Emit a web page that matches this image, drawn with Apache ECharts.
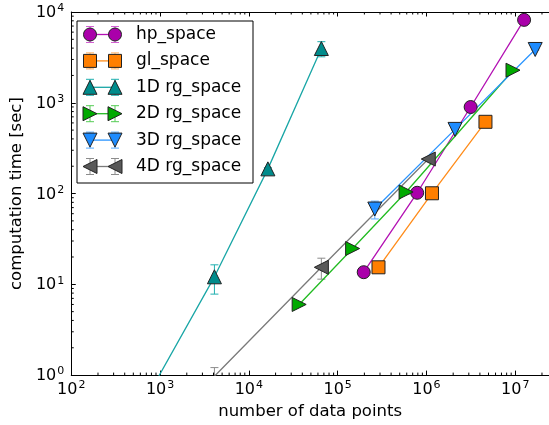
<!DOCTYPE html>
<html>
<head>
<meta charset="utf-8">
<script src="https://cdn.jsdelivr.net/npm/echarts@6/dist/echarts.min.js"></script>
<style>
  html, body { margin: 0; padding: 0; background: #fff; }
  #box { width: 549px; height: 425px; }
</style>
</head>
<body>
<div id="box"></div>
<script>
// axis limits
var xMin = 100, xMax = 2.4e7;
var yMin = 1, yMax = 1e4;

// hp_space
var hpX = [196608, 786432, 3145728, 12582912];
var hpY = [13.6, 102, 898, 8190];
var hpErr = [0.4, 2, 12, 90];
// gl_space
var glX = [288420, 1154440, 4619280];
var glY = [15.4, 100.7, 617];
var glErr = [0.3, 2, 8];
// 1D rg_space
var rg1X = [512, 4096, 16384, 65536];
var rg1Y = [0.32, 12.1, 187, 3960];
var rg1Err = [0, 4.3, 6, 750];
// 2D rg_space
var rg2X = [36864, 147456, 589824, 9437184];
var rg2Y = [6.0, 24.8, 104, 2285];
var rg2Err = [0.2, 0.8, 5, 40];
// 3D rg_space
var rg3X = [262144, 2097152, 16777216];
var rg3Y = [67.5, 509, 3865];
var rg3Err = [15, 10, 60];
// 4D rg_space
var rg4X = [4096, 65536, 1048576];
var rg4Y = [0.97, 15.4, 240];
var rg4Err = [0.24, 4, 8];

var FONT = 'DejaVu Sans';

var sets = [
  {name: 'hp_space', x: hpX, y: hpY, err: hpErr, symbol: 'circle', size: 13, rot: 0, dir: null,
   fill: '#aa00aa', line: '#b311b3', ecol: '#d35fd3'},
  {name: 'gl_space', x: glX, y: glY, err: glErr, symbol: 'rect', size: 13, rot: 0, dir: null,
   fill: '#ff7f00', line: '#ff8c1a', ecol: '#ffad5c'},
  {name: '1D rg_space', x: rg1X, y: rg1Y, err: rg1Err, symbol: 'triangle', size: 14, rot: 0, dir: [0, -1],
   fill: '#008b8b', line: '#19a6a6', ecol: '#20b0b0'},
  {name: '2D rg_space', x: rg2X, y: rg2Y, err: rg2Err, symbol: 'triangle', size: 14, rot: -90, dir: [1, 0],
   fill: '#00aa00', line: '#22bb22', ecol: '#55cc55'},
  {name: '3D rg_space', x: rg3X, y: rg3Y, err: rg3Err, symbol: 'triangle', size: 14, rot: 180, dir: [0, 1],
   fill: '#1e8cff', line: '#2b95ff', ecol: '#55aaff'},
  {name: '4D rg_space', x: rg4X, y: rg4Y, err: rg4Err, symbol: 'triangle', size: 14, rot: 90, dir: [-1, 0],
   fill: '#595959', line: '#7a7a7a', ecol: '#8c8c8c'}
];

function powLabel(v) {
  var e = Math.log10(v);
  if (Math.abs(e - Math.round(e)) > 1e-6) return '';
  return '{b|10}{s|' + Math.round(e) + '}';
}
var labelRich = {
  b: {fontFamily: FONT, fontSize: 16, color: '#000', lineHeight: 18, verticalAlign: 'bottom'},
  s: {fontFamily: FONT, fontSize: 11, color: '#000', lineHeight: 11, verticalAlign: 'top', padding: [0, 0, 0, 1]}
};

function errRender(color) {
  return function (params, api) {
    var e = api.value(2);
    if (!e) return;
    var x = api.value(0), y = api.value(1);
    var cs = params.coordSys;
    var bottomEdge = cs.y + cs.height;
    var top = api.coord([x, y + e]);
    var lo = y - e;
    var by = lo > 0 ? api.coord([x, lo])[1] : bottomEdge + 100;
    var px = top[0];
    var kids = [{
      type: 'line',
      shape: {x1: px, y1: Math.max(top[1], cs.y), x2: px, y2: Math.min(by, bottomEdge)},
      style: {stroke: color, lineWidth: 1}
    }];
    if (top[1] >= cs.y) kids.push({type: 'line', shape: {x1: px - 4, y1: top[1], x2: px + 4, y2: top[1]}, style: {stroke: color, lineWidth: 1}});
    if (by <= bottomEdge) kids.push({type: 'line', shape: {x1: px - 4, y1: by, x2: px + 4, y2: by}, style: {stroke: color, lineWidth: 1}});
    return {type: 'group', children: kids};
  };
}

// minor ticks 2..9 per decade on log axes
var minorData = [];
for (var k = 2; k < 8; k++) {
  for (var m = 2; m <= 9; m++) {
    var v = m * Math.pow(10, k);
    if (v < xMax) minorData.push([v, yMin, 0]);
  }
}
for (var k2 = 0; k2 < 4; k2++) {
  for (var m2 = 2; m2 <= 9; m2++) minorData.push([xMin, m2 * Math.pow(10, k2), 1]);
}
function minorRender(params, api) {
  var cs = params.coordSys;
  var p = api.coord([api.value(0), api.value(1)]);
  var st = {stroke: '#000', lineWidth: 1};
  if (api.value(2) === 0) {
    var b = cs.y + cs.height;
    return {type: 'group', children: [
      {type: 'line', shape: {x1: p[0], y1: b, x2: p[0], y2: b - 2.5}, style: st},
      {type: 'line', shape: {x1: p[0], y1: cs.y, x2: p[0], y2: cs.y + 2.5}, style: st}
    ]};
  }
  return {type: 'line', shape: {x1: cs.x, y1: p[1], x2: cs.x + 2.5, y2: p[1]}, style: st};
}

var series = [];
sets.forEach(function (s) {
  series.push({
    name: s.name + ' err',
    type: 'custom',
    renderItem: errRender(s.ecol),
    data: s.x.map(function (v, i) { return [v, s.y[i], s.err[i]]; }),
    z: 2, silent: true, animation: false
  });
  series.push({
    name: s.name,
    type: 'line',
    data: s.x.map(function (v, i) { return [v, s.y[i]]; }),
    symbol: s.symbol,
    symbolSize: s.size,
    symbolRotate: s.rot,
    showSymbol: true,
    clip: true,
    lineStyle: {color: s.line, width: 1.3},
    itemStyle: {color: s.fill, borderColor: '#222', borderWidth: 1},
    z: 3, animation: false, silent: true
  });
});
series.push({type: 'custom', renderItem: minorRender, data: minorData, z: 5, silent: true, animation: false, clip: false});

// legend drawn as graphics
var legendEls = [{
  type: 'rect', shape: {x: 77, y: 21, width: 176, height: 162},
  style: {fill: '#fff', stroke: '#000', lineWidth: 1}, z: 10
}];
function markerEl(s, cx, cy) {
  var st = {fill: s.fill, stroke: '#222', lineWidth: 1};
  if (s.symbol === 'circle') return {type: 'circle', shape: {cx: cx, cy: cy, r: s.size / 2}, style: st, z: 12};
  if (s.symbol === 'rect') return {type: 'rect', shape: {x: cx - s.size / 2, y: cy - s.size / 2, width: s.size, height: s.size}, style: st, z: 12};
  var h = s.size / 2, d = s.dir, pp = [-d[1], d[0]];
  return {type: 'polygon', shape: {points: [
    [cx + d[0] * h, cy + d[1] * h],
    [cx - d[0] * h + pp[0] * h, cy - d[1] * h + pp[1] * h],
    [cx - d[0] * h - pp[0] * h, cy - d[1] * h - pp[1] * h]
  ]}, style: st, z: 12};
}
sets.forEach(function (s, i) {
  var cy = 34.5 + i * 26.4, x1 = 90, x2 = 115;
  legendEls.push({type: 'line', shape: {x1: x1, y1: cy, x2: x2, y2: cy}, style: {stroke: s.line, lineWidth: 1.3}, z: 11});
  [x1, x2].forEach(function (px) {
    legendEls.push({type: 'line', shape: {x1: px, y1: cy - 8, x2: px, y2: cy + 8}, style: {stroke: s.ecol, lineWidth: 1}, z: 11});
    legendEls.push({type: 'line', shape: {x1: px - 4, y1: cy - 8, x2: px + 4, y2: cy - 8}, style: {stroke: s.ecol, lineWidth: 1}, z: 11});
    legendEls.push({type: 'line', shape: {x1: px - 4, y1: cy + 8, x2: px + 4, y2: cy + 8}, style: {stroke: s.ecol, lineWidth: 1}, z: 11});
    legendEls.push(markerEl(s, px, cy));
  });
  legendEls.push({type: 'text', x: 136, y: cy, style: {text: s.name, fontFamily: FONT, fontSize: 17, fill: '#000', verticalAlign: 'middle'}, z: 12});
});

var chart = echarts.init(document.getElementById('box'));
var option = {
  animation: false,
  backgroundColor: '#fff',
  grid: {left: 68, top: 12, right: 0, bottom: 45, containLabel: false},
  xAxis: [{
    type: 'log', logBase: 10, min: xMin, max: xMax, position: 'bottom',
    name: 'number of data points', nameLocation: 'middle', nameGap: 23,
    nameTextStyle: {fontFamily: FONT, fontSize: 16.5, color: '#000'},
    axisLine: {lineStyle: {color: '#000', width: 1}},
    axisTick: {inside: true, length: 4.5, lineStyle: {color: '#000'}},
    axisLabel: {formatter: powLabel, rich: labelRich, margin: 5, showMaxLabel: false},
    splitLine: {show: false}
  }, {
    type: 'log', logBase: 10, min: xMin, max: xMax, position: 'top',
    axisLine: {lineStyle: {color: '#000', width: 1}},
    axisTick: {inside: true, length: 4.5, lineStyle: {color: '#000'}},
    axisLabel: {show: false},
    splitLine: {show: false}
  }],
  yAxis: {
    type: 'log', logBase: 10, min: yMin, max: yMax,
    name: 'computation time [sec]', nameLocation: 'middle', nameGap: 38,
    nameTextStyle: {fontFamily: FONT, fontSize: 16.5, color: '#000'},
    axisLine: {lineStyle: {color: '#000', width: 1}},
    axisTick: {inside: true, length: 4.5, lineStyle: {color: '#000'}},
    axisLabel: {formatter: powLabel, rich: labelRich, margin: 7},
    splitLine: {show: false}
  },
  graphic: legendEls,
  series: series
};
chart.setOption(option);
</script>
</body>
</html>
